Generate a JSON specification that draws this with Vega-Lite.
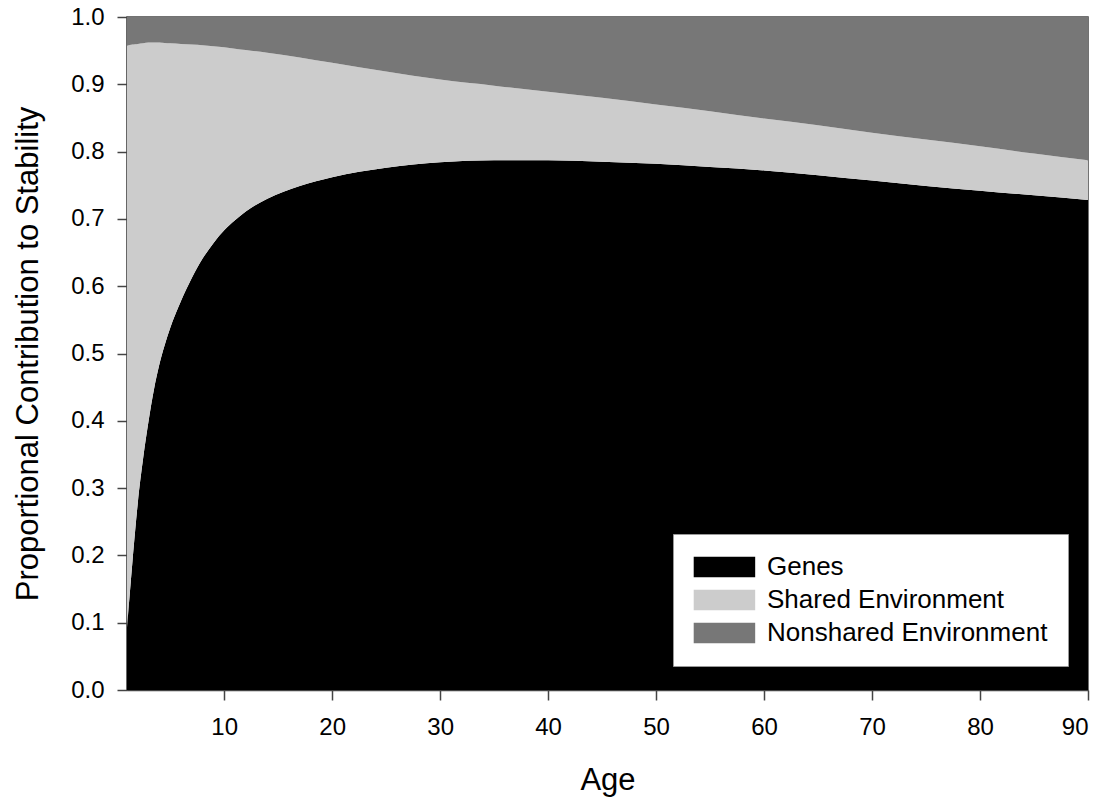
{
  "$schema": "https://vega.github.io/schema/vega-lite/v6.json",
  "width": 961,
  "height": 673,
  "autosize": {"type": "none"},
  "padding": {"left": 127, "top": 17, "right": 26, "bottom": 117},
  "background": "white",
  "config": {
    "font": "Liberation Sans",
    "view": {"stroke": "#444444", "strokeWidth": 1.5},
    "axis": {
      "grid": false,
      "domainColor": "#444444",
      "domainWidth": 1.5,
      "tickColor": "#444444",
      "tickWidth": 1.5,
      "tickSize": 10,
      "labelFont": "Liberation Sans",
      "labelFontSize": 24,
      "labelColor": "black",
      "titleFont": "Liberation Sans",
      "titleFontSize": 31,
      "titleFontWeight": "normal",
      "titleColor": "black"
    }
  },
  "data": {
    "values": [
      {"age": 1, "c": "Genes", "k": 1, "v": 0.093}, {"age": 1, "c": "Shared Environment", "k": 2, "v": 0.865}, {"age": 1, "c": "Nonshared Environment", "k": 3, "v": 0.042},
      {"age": 1.25, "c": "Genes", "k": 1, "v": 0.142}, {"age": 1.25, "c": "Shared Environment", "k": 2, "v": 0.8165}, {"age": 1.25, "c": "Nonshared Environment", "k": 3, "v": 0.0415},
      {"age": 1.5, "c": "Genes", "k": 1, "v": 0.19}, {"age": 1.5, "c": "Shared Environment", "k": 2, "v": 0.769}, {"age": 1.5, "c": "Nonshared Environment", "k": 3, "v": 0.041},
      {"age": 1.75, "c": "Genes", "k": 1, "v": 0.236}, {"age": 1.75, "c": "Shared Environment", "k": 2, "v": 0.7235}, {"age": 1.75, "c": "Nonshared Environment", "k": 3, "v": 0.0405},
      {"age": 2, "c": "Genes", "k": 1, "v": 0.278}, {"age": 2, "c": "Shared Environment", "k": 2, "v": 0.682}, {"age": 2, "c": "Nonshared Environment", "k": 3, "v": 0.04},
      {"age": 2.5, "c": "Genes", "k": 1, "v": 0.345}, {"age": 2.5, "c": "Shared Environment", "k": 2, "v": 0.616}, {"age": 2.5, "c": "Nonshared Environment", "k": 3, "v": 0.039},
      {"age": 3, "c": "Genes", "k": 1, "v": 0.4}, {"age": 3, "c": "Shared Environment", "k": 2, "v": 0.562}, {"age": 3, "c": "Nonshared Environment", "k": 3, "v": 0.038},
      {"age": 3.5, "c": "Genes", "k": 1, "v": 0.447}, {"age": 3.5, "c": "Shared Environment", "k": 2, "v": 0.515}, {"age": 3.5, "c": "Nonshared Environment", "k": 3, "v": 0.038},
      {"age": 4, "c": "Genes", "k": 1, "v": 0.484}, {"age": 4, "c": "Shared Environment", "k": 2, "v": 0.478}, {"age": 4, "c": "Nonshared Environment", "k": 3, "v": 0.038},
      {"age": 4.5, "c": "Genes", "k": 1, "v": 0.513}, {"age": 4.5, "c": "Shared Environment", "k": 2, "v": 0.4485}, {"age": 4.5, "c": "Nonshared Environment", "k": 3, "v": 0.0385},
      {"age": 5, "c": "Genes", "k": 1, "v": 0.538}, {"age": 5, "c": "Shared Environment", "k": 2, "v": 0.423}, {"age": 5, "c": "Nonshared Environment", "k": 3, "v": 0.039},
      {"age": 6, "c": "Genes", "k": 1, "v": 0.578}, {"age": 6, "c": "Shared Environment", "k": 2, "v": 0.382}, {"age": 6, "c": "Nonshared Environment", "k": 3, "v": 0.04},
      {"age": 7, "c": "Genes", "k": 1, "v": 0.612}, {"age": 7, "c": "Shared Environment", "k": 2, "v": 0.347}, {"age": 7, "c": "Nonshared Environment", "k": 3, "v": 0.041},
      {"age": 8, "c": "Genes", "k": 1, "v": 0.641}, {"age": 8, "c": "Shared Environment", "k": 2, "v": 0.317}, {"age": 8, "c": "Nonshared Environment", "k": 3, "v": 0.042},
      {"age": 9, "c": "Genes", "k": 1, "v": 0.664}, {"age": 9, "c": "Shared Environment", "k": 2, "v": 0.2925}, {"age": 9, "c": "Nonshared Environment", "k": 3, "v": 0.0435},
      {"age": 10, "c": "Genes", "k": 1, "v": 0.683}, {"age": 10, "c": "Shared Environment", "k": 2, "v": 0.272}, {"age": 10, "c": "Nonshared Environment", "k": 3, "v": 0.045},
      {"age": 11, "c": "Genes", "k": 1, "v": 0.698}, {"age": 11, "c": "Shared Environment", "k": 2, "v": 0.255}, {"age": 11, "c": "Nonshared Environment", "k": 3, "v": 0.047},
      {"age": 12, "c": "Genes", "k": 1, "v": 0.711}, {"age": 12, "c": "Shared Environment", "k": 2, "v": 0.24}, {"age": 12, "c": "Nonshared Environment", "k": 3, "v": 0.049},
      {"age": 14, "c": "Genes", "k": 1, "v": 0.73}, {"age": 14, "c": "Shared Environment", "k": 2, "v": 0.217}, {"age": 14, "c": "Nonshared Environment", "k": 3, "v": 0.053},
      {"age": 17, "c": "Genes", "k": 1, "v": 0.749}, {"age": 17, "c": "Shared Environment", "k": 2, "v": 0.191}, {"age": 17, "c": "Nonshared Environment", "k": 3, "v": 0.06},
      {"age": 20, "c": "Genes", "k": 1, "v": 0.762}, {"age": 20, "c": "Shared Environment", "k": 2, "v": 0.17}, {"age": 20, "c": "Nonshared Environment", "k": 3, "v": 0.068},
      {"age": 25, "c": "Genes", "k": 1, "v": 0.776}, {"age": 25, "c": "Shared Environment", "k": 2, "v": 0.143}, {"age": 25, "c": "Nonshared Environment", "k": 3, "v": 0.081},
      {"age": 30, "c": "Genes", "k": 1, "v": 0.784}, {"age": 30, "c": "Shared Environment", "k": 2, "v": 0.123}, {"age": 30, "c": "Nonshared Environment", "k": 3, "v": 0.093},
      {"age": 35, "c": "Genes", "k": 1, "v": 0.787}, {"age": 35, "c": "Shared Environment", "k": 2, "v": 0.111}, {"age": 35, "c": "Nonshared Environment", "k": 3, "v": 0.102},
      {"age": 40, "c": "Genes", "k": 1, "v": 0.787}, {"age": 40, "c": "Shared Environment", "k": 2, "v": 0.102}, {"age": 40, "c": "Nonshared Environment", "k": 3, "v": 0.111},
      {"age": 45, "c": "Genes", "k": 1, "v": 0.785}, {"age": 45, "c": "Shared Environment", "k": 2, "v": 0.095}, {"age": 45, "c": "Nonshared Environment", "k": 3, "v": 0.12},
      {"age": 50, "c": "Genes", "k": 1, "v": 0.782}, {"age": 50, "c": "Shared Environment", "k": 2, "v": 0.088}, {"age": 50, "c": "Nonshared Environment", "k": 3, "v": 0.13},
      {"age": 55, "c": "Genes", "k": 1, "v": 0.777}, {"age": 55, "c": "Shared Environment", "k": 2, "v": 0.083}, {"age": 55, "c": "Nonshared Environment", "k": 3, "v": 0.14},
      {"age": 60, "c": "Genes", "k": 1, "v": 0.772}, {"age": 60, "c": "Shared Environment", "k": 2, "v": 0.077}, {"age": 60, "c": "Nonshared Environment", "k": 3, "v": 0.151},
      {"age": 65, "c": "Genes", "k": 1, "v": 0.765}, {"age": 65, "c": "Shared Environment", "k": 2, "v": 0.074}, {"age": 65, "c": "Nonshared Environment", "k": 3, "v": 0.161},
      {"age": 70, "c": "Genes", "k": 1, "v": 0.757}, {"age": 70, "c": "Shared Environment", "k": 2, "v": 0.071}, {"age": 70, "c": "Nonshared Environment", "k": 3, "v": 0.172},
      {"age": 75, "c": "Genes", "k": 1, "v": 0.749}, {"age": 75, "c": "Shared Environment", "k": 2, "v": 0.069}, {"age": 75, "c": "Nonshared Environment", "k": 3, "v": 0.182},
      {"age": 80, "c": "Genes", "k": 1, "v": 0.742}, {"age": 80, "c": "Shared Environment", "k": 2, "v": 0.066}, {"age": 80, "c": "Nonshared Environment", "k": 3, "v": 0.192},
      {"age": 85, "c": "Genes", "k": 1, "v": 0.735}, {"age": 85, "c": "Shared Environment", "k": 2, "v": 0.062}, {"age": 85, "c": "Nonshared Environment", "k": 3, "v": 0.203},
      {"age": 90, "c": "Genes", "k": 1, "v": 0.728}, {"age": 90, "c": "Shared Environment", "k": 2, "v": 0.059}, {"age": 90, "c": "Nonshared Environment", "k": 3, "v": 0.213}
    ]
  },
  "mark": {"type": "area", "interpolate": "monotone", "opacity": 1, "clip": true},
  "encoding": {
    "x": {
      "field": "age",
      "type": "quantitative",
      "scale": {"domain": [1, 90], "nice": false, "zero": false},
      "axis": {"values": [10, 20, 30, 40, 50, 60, 70, 80, 90], "title": "Age", "labelPadding": 15, "titlePadding": 26}
    },
    "y": {
      "field": "v",
      "type": "quantitative",
      "stack": "zero",
      "scale": {"domain": [0, 1], "nice": false},
      "axis": {"values": [0, 0.1, 0.2, 0.3, 0.4, 0.5, 0.6, 0.7, 0.8, 0.9, 1.0], "format": ".1f", "title": "Proportional Contribution to Stability", "labelPadding": 13, "titlePadding": 26}
    },
    "color": {
      "field": "c",
      "type": "nominal",
      "scale": {"domain": ["Genes", "Shared Environment", "Nonshared Environment"], "range": ["#000000", "#cccccc", "#777777"]},
      "legend": {
        "title": null,
        "orient": "none",
        "legendX": 546,
        "legendY": 517,
        "padding": 20,
        "fillColor": "white",
        "strokeColor": "#999999",
        "symbolType": "M-1.2,-1H4.8V1H-1.2Z",
        "symbolSize": 420,
        "symbolStrokeWidth": 0,
        "symbolOpacity": 1,
        "labelOffset": 48,
        "labelFont": "Liberation Sans",
        "labelFontSize": 26,
        "labelColor": "black",
        "rowPadding": 7,
        "labelLimit": 400
      }
    },
    "order": {"field": "k", "type": "quantitative", "sort": "ascending"}
  }
}
